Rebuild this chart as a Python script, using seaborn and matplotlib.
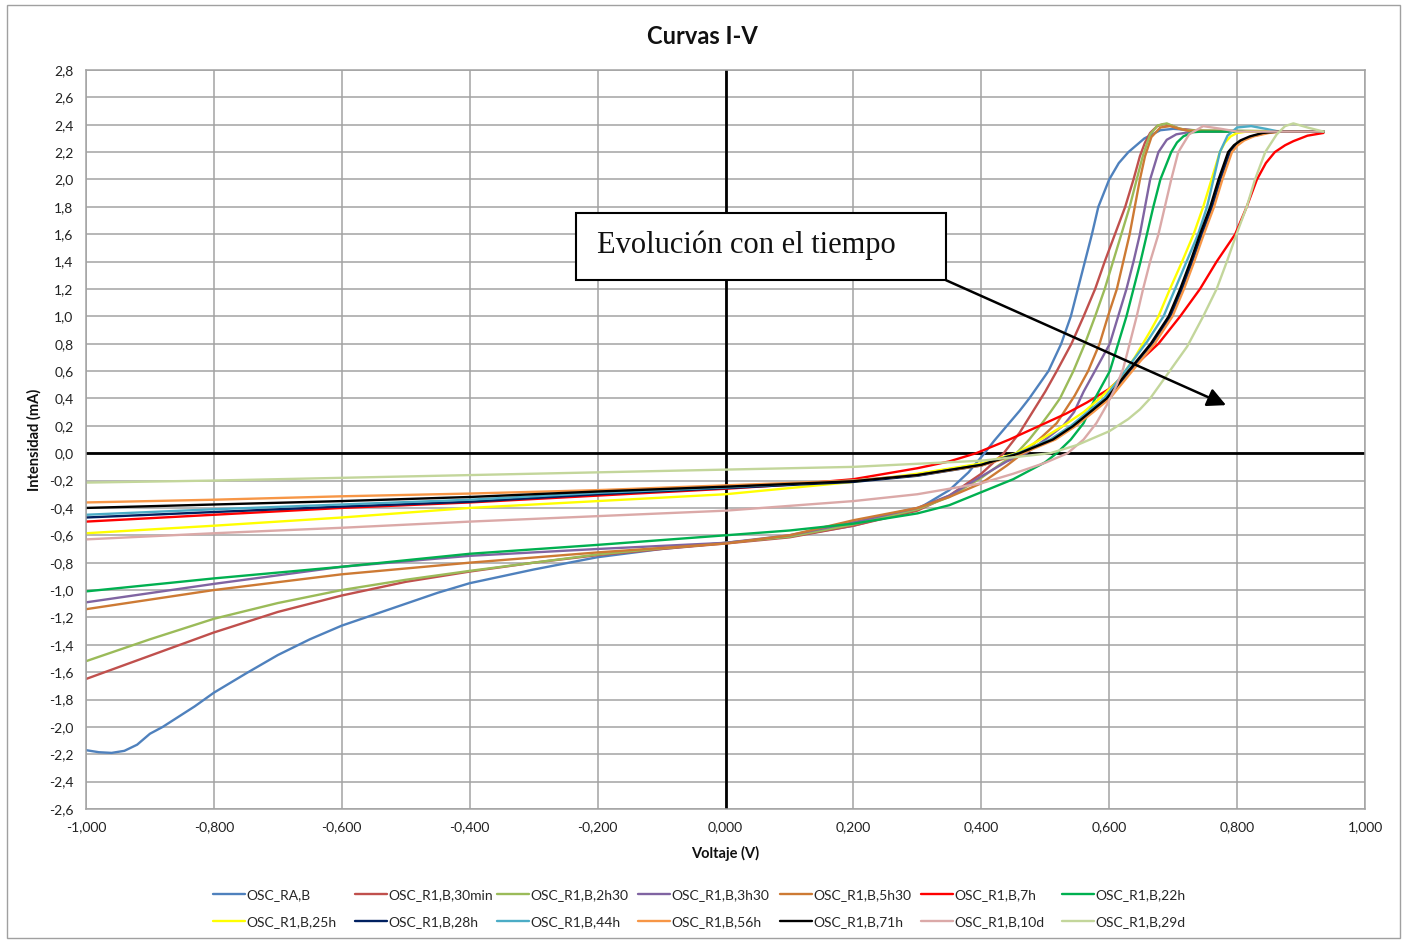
import matplotlib
matplotlib.use("Agg")
import numpy as np
import pandas as pd
import seaborn as sns
import matplotlib.pyplot as plt
from matplotlib.lines import Line2D
from matplotlib.patches import Rectangle
from matplotlib.ticker import FuncFormatter

# ---------------- data ----------------
series_names = ["OSC_RA,B", "OSC_R1,B,30min", "OSC_R1,B,2h30", "OSC_R1,B,3h30",
                "OSC_R1,B,5h30", "OSC_R1,B,7h", "OSC_R1,B,22h", "OSC_R1,B,25h",
                "OSC_R1,B,28h", "OSC_R1,B,44h", "OSC_R1,B,56h", "OSC_R1,B,71h",
                "OSC_R1,B,10d", "OSC_R1,B,29d"]

v_ra = [-1.0, -0.98, -0.96, -0.94, -0.92, -0.9, -0.88, -0.86, -0.83, -0.8, -0.75, -0.7, -0.65, -0.6,
        -0.55, -0.5, -0.45, -0.4, -0.3, -0.2, -0.1, 0.0,
        0.1, 0.2, 0.3, 0.35, 0.38, 0.405, 0.42, 0.44, 0.46, 0.475, 0.49, 0.505, 0.525, 0.54,
        0.551, 0.562, 0.573, 0.583, 0.6, 0.615, 0.63, 0.655, 0.68, 0.70, 0.75, 0.935]
i_ra = [-2.17, -2.185, -2.19, -2.175, -2.13, -2.05, -2.0, -1.94, -1.85, -1.75, -1.61, -1.475, -1.36, -1.26,
        -1.18, -1.10, -1.02, -0.95, -0.85, -0.76, -0.70, -0.655,
        -0.61, -0.53, -0.41, -0.27, -0.14, 0.0, 0.09, 0.2, 0.31, 0.4, 0.5, 0.6, 0.8, 1.0,
        1.2, 1.4, 1.6, 1.8, 2.0, 2.12, 2.2, 2.3, 2.36, 2.37, 2.355, 2.35]

v_30min = [-1.0, -0.9, -0.8, -0.7, -0.6, -0.5, -0.4, -0.3, -0.2, -0.1, 0.0, 0.1, 0.2, 0.3, 0.35, 0.4,
           0.435, 0.46, 0.48, 0.5, 0.518, 0.541, 0.56, 0.578, 0.593, 0.609, 0.625, 0.638, 0.648,
           0.656, 0.664, 0.675, 0.685, 0.697, 0.71, 0.75, 0.935]
i_30min = [-1.65, -1.48, -1.31, -1.16, -1.04, -0.94, -0.865, -0.80, -0.745, -0.70, -0.66, -0.615, -0.53,
           -0.42, -0.31, -0.15, 0.0, 0.15, 0.3, 0.45, 0.6, 0.8, 1.0, 1.2, 1.4, 1.6, 1.8, 2.0, 2.17,
           2.27, 2.34, 2.39, 2.405, 2.395, 2.37, 2.35, 2.35]

v_2h30 = [-1.0, -0.9, -0.8, -0.7, -0.6, -0.5, -0.4, -0.3, -0.2, -0.1, 0.0, 0.1, 0.2, 0.3, 0.35, 0.4,
          0.43, 0.455, 0.475, 0.492, 0.508, 0.523, 0.544, 0.562, 0.578, 0.593, 0.606, 0.619, 0.632,
          0.643, 0.653, 0.664, 0.676, 0.69, 0.705, 0.72, 0.935]
i_2h30 = [-1.52, -1.36, -1.21, -1.095, -1.0, -0.925, -0.86, -0.80, -0.74, -0.695, -0.655, -0.61, -0.52,
          -0.41, -0.32, -0.18, -0.08, 0.0, 0.1, 0.2, 0.3, 0.4, 0.6, 0.8, 1.0, 1.2, 1.4, 1.6, 1.8,
          2.0, 2.18, 2.33, 2.395, 2.41, 2.38, 2.36, 2.35]

v_3h30 = [-1.0, -0.8, -0.6, -0.4, -0.2, 0.0, 0.1, 0.2, 0.3, 0.35, 0.4, 0.44, 0.47, 0.5, 0.528, 0.545,
          0.56, 0.58, 0.601, 0.614, 0.627, 0.638, 0.648, 0.656, 0.664, 0.677, 0.69, 0.705, 0.73, 0.935]
i_3h30 = [-1.09, -0.955, -0.83, -0.75, -0.70, -0.655, -0.60, -0.505, -0.40, -0.31, -0.17, -0.06, 0.0,
          0.1, 0.2, 0.3, 0.45, 0.62, 0.8, 1.0, 1.2, 1.4, 1.6, 1.8, 2.0, 2.2, 2.29, 2.33, 2.35, 2.35]

v_5h30 = [-1.0, -0.9, -0.8, -0.6, -0.4, -0.2, 0.0, 0.1, 0.2, 0.3, 0.35, 0.4, 0.44, 0.465, 0.495, 0.518,
          0.546, 0.567, 0.585, 0.598, 0.612, 0.622, 0.632, 0.64, 0.648, 0.656, 0.666, 0.68, 0.695,
          0.71, 0.725, 0.935]
i_5h30 = [-1.14, -1.07, -1.0, -0.885, -0.80, -0.725, -0.66, -0.60, -0.49, -0.40, -0.32, -0.22, -0.09,
          0.0, 0.12, 0.22, 0.42, 0.6, 0.8, 1.0, 1.2, 1.4, 1.6, 1.8, 2.0, 2.17, 2.31, 2.38, 2.39,
          2.37, 2.355, 2.35]

v_7h = [-1.0, -0.8, -0.6, -0.4, -0.2, 0.0, 0.1, 0.2, 0.3, 0.35, 0.392, 0.444, 0.491, 0.533, 0.565, 0.6,
        0.64, 0.677, 0.711, 0.742, 0.768, 0.797, 0.815, 0.831, 0.845, 0.859, 0.875, 0.888, 0.91, 0.935]
i_7h = [-0.50, -0.45, -0.40, -0.36, -0.31, -0.26, -0.23, -0.19, -0.11, -0.06, 0.0, 0.1, 0.2, 0.29, 0.37,
        0.47, 0.64, 0.8, 1.0, 1.2, 1.4, 1.6, 1.8, 2.0, 2.12, 2.2, 2.25, 2.28, 2.32, 2.34]

v_22h = [-1.0, -0.8, -0.6, -0.4, -0.2, 0.0, 0.1, 0.2, 0.3, 0.35, 0.4, 0.45, 0.5, 0.518, 0.54, 0.56,
         0.58, 0.601, 0.614, 0.627, 0.638, 0.649, 0.659, 0.669, 0.68, 0.697, 0.706, 0.716, 0.73,
         0.745, 0.935]
i_22h = [-1.01, -0.915, -0.83, -0.735, -0.67, -0.60, -0.565, -0.515, -0.44, -0.38, -0.285, -0.19, -0.066,
         0.0, 0.1, 0.22, 0.42, 0.6, 0.8, 1.0, 1.2, 1.4, 1.6, 1.8, 2.0, 2.2, 2.27, 2.315, 2.345,
         2.35, 2.35]

v_25h = [-1.0, -0.8, -0.6, -0.4, -0.2, 0.0, 0.2, 0.3, 0.4, 0.455, 0.5, 0.528, 0.56, 0.585, 0.616, 0.64,
         0.664, 0.677, 0.695, 0.714, 0.732, 0.747, 0.76, 0.773, 0.781, 0.79, 0.80, 0.815, 0.935]
i_25h = [-0.585, -0.53, -0.47, -0.40, -0.35, -0.30, -0.21, -0.15, -0.075, 0.0, 0.12, 0.2, 0.3, 0.4, 0.54,
         0.7, 0.89, 1.0, 1.2, 1.4, 1.6, 1.8, 2.0, 2.2, 2.27, 2.315, 2.34, 2.35, 2.35]

v_28h = [-1.0, -0.8, -0.6, -0.4, -0.2, 0.0, 0.2, 0.3, 0.4, 0.46, 0.512, 0.546, 0.572, 0.598, 0.632,
         0.667, 0.696, 0.714, 0.73, 0.745, 0.761, 0.774, 0.789, 0.798, 0.808, 0.823, 0.845, 0.865, 0.935]
i_28h = [-0.47, -0.43, -0.39, -0.355, -0.30, -0.255, -0.21, -0.165, -0.09, 0.0, 0.1, 0.2, 0.3, 0.4, 0.6,
         0.8, 1.0, 1.2, 1.4, 1.6, 1.8, 2.0, 2.2, 2.25, 2.285, 2.315, 2.34, 2.35, 2.35]

v_44h = [-1.0, -0.8, -0.6, -0.4, -0.2, 0.0, 0.2, 0.3, 0.4, 0.458, 0.508, 0.54, 0.566, 0.592, 0.625, 0.66,
         0.685, 0.703, 0.721, 0.739, 0.753, 0.763, 0.773, 0.785, 0.80, 0.822, 0.845, 0.865, 0.935]
i_44h = [-0.45, -0.41, -0.375, -0.34, -0.29, -0.25, -0.20, -0.16, -0.085, 0.0, 0.1, 0.2, 0.3, 0.4, 0.6,
         0.82, 1.0, 1.2, 1.4, 1.6, 1.8, 2.0, 2.2, 2.32, 2.38, 2.39, 2.37, 2.35, 2.35]

v_56h = [-1.0, -0.8, -0.6, -0.4, -0.2, 0.0, 0.2, 0.3, 0.4, 0.465, 0.516, 0.548, 0.575, 0.601, 0.636,
         0.671, 0.699, 0.717, 0.733, 0.748, 0.764, 0.777, 0.792, 0.801, 0.811, 0.826, 0.85, 0.87, 0.935]
i_56h = [-0.36, -0.34, -0.315, -0.295, -0.27, -0.235, -0.20, -0.16, -0.09, 0.0, 0.1, 0.2, 0.3, 0.4, 0.6,
         0.8, 1.0, 1.2, 1.4, 1.6, 1.8, 2.0, 2.2, 2.25, 2.285, 2.315, 2.34, 2.35, 2.35]

v_71h = [-1.0, -0.8, -0.6, -0.4, -0.2, 0.0, 0.2, 0.3, 0.4, 0.46, 0.512, 0.544, 0.57, 0.596, 0.63, 0.665,
         0.693, 0.711, 0.727, 0.742, 0.758, 0.771, 0.786, 0.795, 0.805, 0.82, 0.84, 0.862, 0.935]
i_71h = [-0.40, -0.375, -0.35, -0.32, -0.28, -0.245, -0.205, -0.16, -0.085, 0.0, 0.1, 0.2, 0.3, 0.4, 0.6,
         0.8, 1.0, 1.2, 1.4, 1.6, 1.8, 2.0, 2.2, 2.25, 2.285, 2.315, 2.34, 2.35, 2.35]

v_10d = [-1.0, -0.8, -0.6, -0.4, -0.2, 0.0, 0.2, 0.3, 0.4, 0.45, 0.5, 0.535, 0.56, 0.58, 0.596, 0.612,
         0.622, 0.632, 0.643, 0.653, 0.664, 0.677, 0.687, 0.697, 0.708, 0.725, 0.747, 0.775, 0.80, 0.935]
i_10d = [-0.63, -0.585, -0.545, -0.50, -0.46, -0.42, -0.35, -0.30, -0.22, -0.15, -0.07, 0.0, 0.1, 0.22,
         0.35, 0.5, 0.62, 0.8, 1.0, 1.2, 1.4, 1.6, 1.8, 2.0, 2.2, 2.33, 2.39, 2.37, 2.35, 2.35]

v_29d = [-1.0, -0.8, -0.6, -0.4, -0.2, 0.0, 0.2, 0.4, 0.45, 0.508, 0.55, 0.6, 0.63, 0.648, 0.664, 0.69,
         0.722, 0.747, 0.768, 0.784, 0.799, 0.815, 0.828, 0.844, 0.862, 0.875, 0.888, 0.91, 0.935]
i_29d = [-0.215, -0.20, -0.18, -0.16, -0.14, -0.12, -0.10, -0.055, -0.03, 0.0, 0.06, 0.16, 0.25, 0.32,
         0.40, 0.57, 0.78, 1.0, 1.2, 1.4, 1.6, 1.8, 2.0, 2.2, 2.33, 2.39, 2.41, 2.38, 2.35]

series_v = [v_ra, v_30min, v_2h30, v_3h30, v_5h30, v_7h, v_22h, v_25h, v_28h, v_44h, v_56h, v_71h, v_10d, v_29d]
series_i = [i_ra, i_30min, i_2h30, i_3h30, i_5h30, i_7h, i_22h, i_25h, i_28h, i_44h, i_56h, i_71h, i_10d, i_29d]

series_colors = ["#4F81BD", "#C0504D", "#9BBB59", "#8064A2", "#CD7A34", "#FF0000", "#00B050",
                 "#FFFF00", "#002060", "#4BACC6", "#F79646", "#000000", "#DBA9A8", "#C3D69B"]

x_ticks = [-1.0, -0.8, -0.6, -0.4, -0.2, 0.0, 0.2, 0.4, 0.6, 0.8, 1.0]
y_ticks = [-2.6, -2.4, -2.2, -2.0, -1.8, -1.6, -1.4, -1.2, -1.0, -0.8, -0.6, -0.4, -0.2,
           0.0, 0.2, 0.4, 0.6, 0.8, 1.0, 1.2, 1.4, 1.6, 1.8, 2.0, 2.2, 2.4, 2.6, 2.8]

# ---------------- build table ----------------
frames = [pd.DataFrame({"Voltaje": v, "Intensidad": i, "Serie": n})
          for n, v, i in zip(series_names, series_v, series_i)]
df = pd.concat(frames, ignore_index=True)

sns.set_theme(style="white")
plt.rcParams["font.family"] = ["Lato", "DejaVu Sans"]

W, H = 1407, 940
fig = plt.figure(figsize=(W / 100, H / 100), dpi=100)
fig.patch.set_facecolor("white")
ax = fig.add_axes([86 / W, 1 - 809 / H, (1365 - 86) / W, (809 - 70) / H])

grid_c = "#A3A3A3"
ax.set_xlim(-1.0, 1.0)
ax.set_ylim(-2.6, 2.8)
ax.set_xticks(x_ticks)
ax.set_yticks(y_ticks)
ax.grid(True, color=grid_c, linewidth=1.1, zorder=0)
ax.set_axisbelow(True)
for s in ax.spines.values():
    s.set_color(grid_c)
    s.set_linewidth(1.1)

ax.axhline(0, color="black", linewidth=2.0, zorder=1.5)
ax.axvline(0, color="black", linewidth=2.0, zorder=1.5)

sns.lineplot(data=df, x="Voltaje", y="Intensidad", hue="Serie", hue_order=series_names,
             palette=dict(zip(series_names, series_colors)), estimator=None, sort=False,
             linewidth=1.7, legend=False, ax=ax, zorder=2)

def fmt_x(v, pos):
    s = f"{v:.3f}".replace(".", ",")
    return "0,000" if s == "-0,000" else s

def fmt_y(v, pos):
    s = f"{v:.1f}".replace(".", ",")
    return "0,0" if s == "-0,0" else s

ax.xaxis.set_major_formatter(FuncFormatter(fmt_x))
ax.yaxis.set_major_formatter(FuncFormatter(fmt_y))
ax.tick_params(axis="both", length=0, labelsize=10, colors="#222222")
ax.tick_params(axis="x", pad=9)
ax.tick_params(axis="y", pad=9)
ax.set_xlabel("")
ax.set_ylabel("")

fig.text(702 / W, 1 - 36 / H, "Curvas I-V", ha="center", va="center",
         fontsize=17, fontweight="bold", color="#111111")
fig.text(725.5 / W, 1 - 853 / H, "Voltaje (V)", ha="center", va="center",
         fontsize=10.5, fontweight="bold", color="#111111")
fig.text(34 / W, 1 - 440 / H, "Intensidad (mA)", ha="center", va="center", rotation=90,
         fontsize=10.5, fontweight="bold", color="#111111")

# ---------------- annotation ----------------
box = Rectangle((-0.2338, 1.264), 0.5786, 0.489, facecolor="white", edgecolor="black",
                linewidth=1.5, zorder=5)
ax.add_patch(box)
ax.text(-0.201, 1.52, "Evolución con el tiempo", ha="left", va="center", fontsize=22,
        family=["Liberation Serif", "DejaVu Serif"], color="#111111", zorder=6)
ax.annotate("", xy=(0.7827, 0.351), xytext=(0.3448, 1.264),
            arrowprops=dict(arrowstyle="-|>", color="black", lw=1.8, mutation_scale=28,
                            shrinkA=0, shrinkB=0), zorder=6)

# ---------------- legend (row-major, 7 columns) ----------------
col_x = [213, 355, 497, 638, 780, 921, 1062]
fs = 10
fs_px = fs * 100 / 72
for c in range(7):
    idx = [c, c + 7]
    handles = [Line2D([0], [0], color=series_colors[k], lw=1.7) for k in idx]
    labels = [series_names[k] for k in idx]
    fig.legend(handles, labels, loc="center left",
               bbox_to_anchor=(col_x[c] / W, 1 - 908.5 / H),
               frameon=False, fontsize=fs, handlelength=32 / fs_px,
               handletextpad=0.1, labelspacing=1.1, borderpad=0, borderaxespad=0)

# outer chart border
fig.add_artist(Rectangle((7 / W, 2 / H), 1393 / W, 933 / H, transform=fig.transFigure,
                         fill=False, edgecolor="#A0A0A0", linewidth=1.0))

fig.savefig("out.png", dpi=100)
